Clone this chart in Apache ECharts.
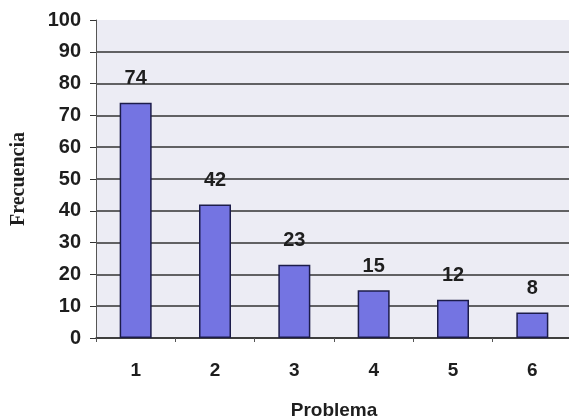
<!DOCTYPE html>
<html>
<head>
<meta charset="utf-8">
<script src="https://cdn.jsdelivr.net/npm/echarts@6/dist/echarts.min.js"></script>
<style>
html,body{margin:0;padding:0;background:#fff;}
#chart{width:569px;height:419px;}
</style>
</head>
<body>
<div id="chart"></div>
<script>
// Frequency of each problem
const categories = ['1', '2', '3', '4', '5', '6'];
const frecuencia = [74, 42, 23, 15, 12, 8];
const yTicks = [0, 10, 20, 30, 40, 50, 60, 70, 80, 90, 100];

const chart = echarts.init(document.getElementById('chart'));
chart.setOption({
  backgroundColor: '#ffffff',
  animation: false,
  grid: {
    left: 96, top: 20, width: 476, height: 318,
    outerBoundsMode: 'none',
    containLabel: false,
    show: true, backgroundColor: '#ececf4', borderWidth: 0
  },
  xAxis: {
    type: 'category',
    data: categories,
    name: 'Problema',
    nameLocation: 'middle',
    nameGap: 63,
    nameTextStyle: { fontFamily: 'Liberation Sans', fontWeight: 'bold', fontSize: 19, color: '#1e1e1e' },
    axisLine: { lineStyle: { color: '#333', width: 1.5 } },
    axisTick: { show: true, length: 4, lineStyle: { color: '#555' } },
    axisLabel: { fontFamily: 'Liberation Sans', fontWeight: 'bold', fontSize: 19, color: '#1e1e1e', margin: 23 }
  },
  yAxis: {
    type: 'value',
    min: yTicks[0],
    max: yTicks[yTicks.length - 1],
    interval: 10,
    name: 'Frecuencia',
    nameLocation: 'middle',
    nameGap: 67,
    nameRotate: 90,
    nameTextStyle: { fontFamily: 'Liberation Serif', fontWeight: 'bold', fontSize: 20, color: '#1e1e1e' },
    axisLine: { show: true, lineStyle: { color: '#555', width: 1 } },
    axisTick: { show: true, length: 6, lineStyle: { color: '#333' } },
    axisLabel: { fontFamily: 'Liberation Sans', fontWeight: 'bold', fontSize: 20, color: '#1e1e1e', margin: 15 },
    splitLine: { showMaxLine: false, lineStyle: { color: '#333', width: 1.5 } }
  },
  series: [{
    type: 'bar',
    data: frecuencia,
    barWidth: 32,
    itemStyle: { color: '#7474e2', borderColor: '#1c1c4a', borderWidth: 1.5 },
    label: {
      show: true,
      position: 'top',
      distance: 14,
      fontFamily: 'Liberation Sans',
      fontWeight: 'bold',
      fontSize: 20,
      color: '#1e1e1e'
    }
  }]
});
</script>
</body>
</html>
